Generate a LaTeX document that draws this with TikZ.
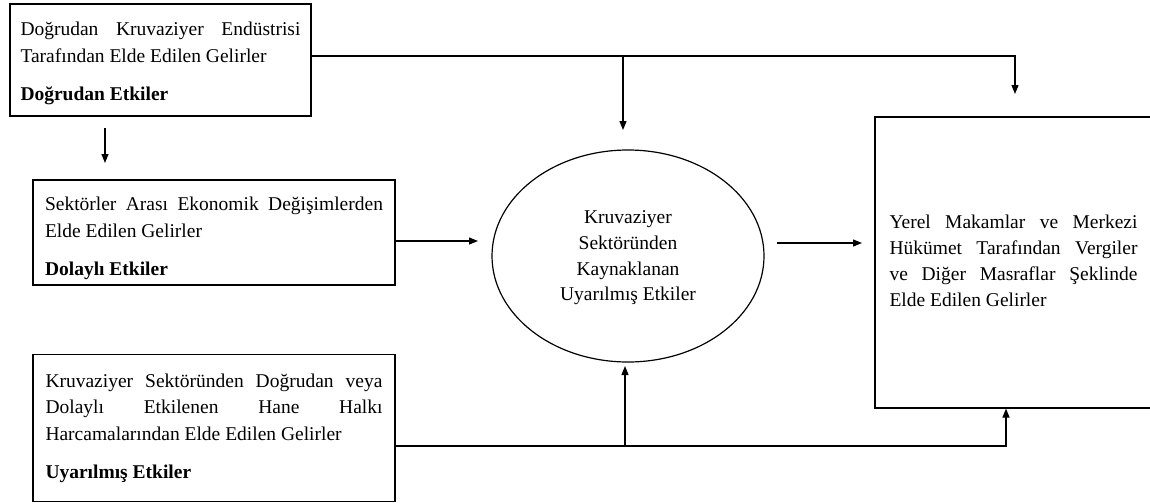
\documentclass[tikz,border=0pt]{standalone}
\usepackage{fontspec}
\setmainfont{Liberation Serif}
\usetikzlibrary{arrows.meta,shapes.geometric}
\parindent=0pt
\parskip=0pt
\hyphenpenalty=10000
% top strut that sets where the first line sits inside a box
\newcommand{\topstrut}[1]{\rule{0pt}{#1}}
\begin{document}
\begin{tikzpicture}[x=1pt,y=-1pt,
  line width=1.2pt,
  every node/.style={font=\fontsize{19.5}{26.5}\selectfont, inner sep=0pt},
  box/.style={draw, rectangle, align=justify},
  arr/.style={-{Triangle[length=9pt,width=7pt]}}]
\useasboundingbox (0,0) rectangle (1150,503);
\clip (0,0) rectangle (1150,503);

% income boxes on the left
\node[box, minimum width=301pt, minimum height=112pt, text width=280pt] (b1) at (160.5,60)
  {\topstrut{21pt}Doğrudan Kruvaziyer Endüstrisi\linebreak Tarafından Elde Edilen Gelirler\par\vspace{12pt}\textbf{Doğrudan Etkiler}};
\node[box, minimum width=362pt, minimum height=105pt, text width=338pt] (b2) at (214,232.5)
  {\topstrut{26pt}Sektörler Arası Ekonomik Değişimlerden\linebreak Elde Edilen Gelirler\par\vspace{12pt}\textbf{Dolaylı Etkiler}};
\node[box, minimum width=362pt, minimum height=147pt, text width=337pt] (b3) at (214,428)
  {\topstrut{14pt}Kruvaziyer Sektöründen Doğrudan veya\linebreak Dolaylı Etkilenen Hane Halkı\linebreak Harcamalarından Elde Edilen Gelirler\par\vspace{12pt}\textbf{Uyarılmış Etkiler}};

% induced effects
\node[draw, ellipse, minimum width=272pt, minimum height=212pt, align=center,
  font=\fontsize{19.5}{25.7}\selectfont] (e) at (628,256)
  {\topstrut{17pt}Kruvaziyer\\Sektöründen\\Kaynaklanan\\Uyarılmış Etkiler};

% government revenue box (runs past the right edge)
\node[box, minimum width=277pt, minimum height=291pt, text width=248pt,
  font=\fontsize{19.5}{26}\selectfont] (r) at (1013.5,262.5)
  {Yerel Makamlar ve Merkezi\linebreak Hükümet Tarafından Vergiler\linebreak ve Diğer Masraflar Şeklinde\linebreak Elde Edilen Gelirler\rule[-4pt]{0pt}{4pt}};

% connector points
\coordinate (t1) at (623,56);
\coordinate (t2) at (1015,56);
\coordinate (eT) at (623,130);
\coordinate (rT) at (1015,94);
\coordinate (d1) at (105,128);
\coordinate (d2) at (105,163);
\coordinate (aL) at (478,241);
\coordinate (eR) at (777,243);
\coordinate (rL) at (862,243);
\coordinate (u1) at (625,446);
\coordinate (u2) at (1006,446);
\coordinate (eB) at (625,366);

% connectors
\draw[arr] (b1.east |- t2) -- (t2) -- (rT);
\draw[arr] (t1) -- (eT);
\draw[arr] (d1) -- (d2);
\draw[arr] (b2.east |- aL) -- (aL);
\draw[arr] (eR) -- (rL);
\draw[arr] (b3.east |- u2) -- (u2) -- (r.south -| u2);
\draw[arr] (u1) -- (eB);
\end{tikzpicture}
\end{document}
